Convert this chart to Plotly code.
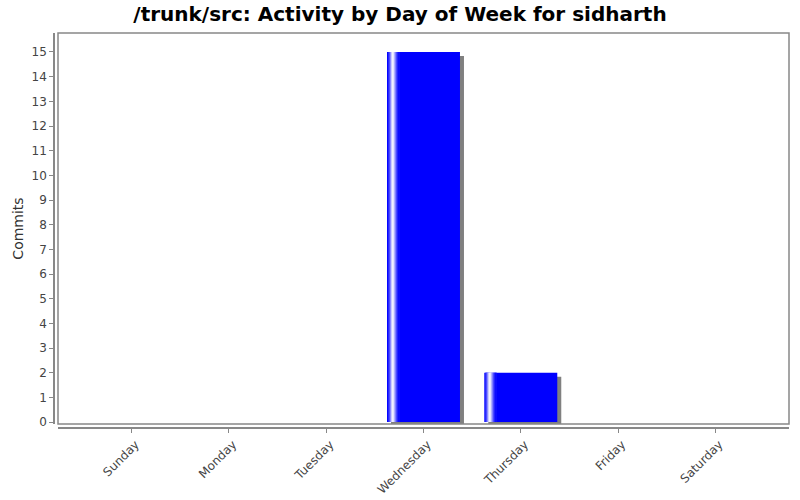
import plotly.graph_objects as go

# Datos: commits por día de la semana.
DAYS = ["Sunday", "Monday", "Tuesday", "Wednesday", "Thursday", "Friday", "Saturday"]
COMMITS = [0, 0, 0, 15, 2, 0, 0]
Y_TICKS = list(range(0, 16))

AXIS_COLOR = "#888888"
TEXT_COLOR = "#444444"
BAR_COLOR = "#0000FF"
SHADOW_COLOR = "#808080"

BAR_WIDTH = 0.75
PX_X = 1 / 97.3   # un pixel en unidades de categoría
PX_Y = 1 / 24.67  # un pixel en unidades del eje y

fig = go.Figure()

# Sombra gris desplazada 4px a la derecha y 4px hacia abajo.
fig.add_trace(
    go.Bar(
        x=DAYS,
        y=COMMITS,
        base=-4 * PX_Y,
        width=BAR_WIDTH,
        offset=-BAR_WIDTH / 2 + 4 * PX_X,
        marker_color=SHADOW_COLOR,
        marker_line_width=0,
        hoverinfo="skip",
    )
)

# Barra principal.
fig.add_trace(
    go.Bar(
        x=DAYS,
        y=COMMITS,
        width=BAR_WIDTH,
        offset=-BAR_WIDTH / 2,
        marker_color=BAR_COLOR,
        marker_line_width=0,
    )
)

# Brillo del lado izquierdo de la barra (franjas de 1px).
mezcla = [0.15, 0.3, 0.55, 0.8, 0.95, 0.9, 0.7, 0.5, 0.3, 0.15, 0.05]
for i, m in enumerate(mezcla):
    c = int(255 * m)
    fig.add_trace(
        go.Bar(
            x=DAYS,
            y=COMMITS,
            width=PX_X * 1.05,
            offset=-BAR_WIDTH / 2 + (i + 1) * PX_X,
            marker_color=f"rgb({c},{c},255)",
            marker_line_width=0,
            hoverinfo="skip",
        )
    )

fig.update_layout(
    width=800,
    height=500,
    barmode="overlay",
    showlegend=False,
    paper_bgcolor="#FFFFFF",
    plot_bgcolor="#FFFFFF",
    font_family="DejaVu Sans",
    font_color=TEXT_COLOR,
    margin=dict(l=54, r=11, t=33, b=72, autoexpand=False),
    title=dict(
        text="<b>/trunk/src: Activity by Day of Week for sidharth</b>",
        x=0.5,
        xanchor="center",
        y=1 - 14 / 500,
        yanchor="middle",
        font=dict(size=20, color="#000000", family="DejaVu Sans"),
    ),
    xaxis=dict(
        domain=[4 / 735, 1],
        range=[-0.757, 6.757],
        anchor="free",
        position=0,
        automargin=False,
        showline=True,
        linecolor=AXIS_COLOR,
        linewidth=1.5,
        ticks="outside",
        ticklen=4,
        tickcolor=AXIS_COLOR,
        tickangle=-45,
        ticklabelshift=4,
        tickfont=dict(size=12, color=TEXT_COLOR),
        showgrid=False,
        zeroline=False,
        fixedrange=True,
    ),
    yaxis=dict(
        domain=[4 / 395, 1],
        range=[-0.08, 15.77],
        anchor="free",
        position=0,
        automargin=False,
        tickvals=Y_TICKS,
        showline=True,
        linecolor=AXIS_COLOR,
        linewidth=1.5,
        ticks="outside",
        ticklen=4,
        tickcolor=AXIS_COLOR,
        tickfont=dict(size=12, color=TEXT_COLOR),
        showgrid=False,
        zeroline=False,
        fixedrange=True,
        title=dict(text="Commits", font=dict(size=14, color="#333333"), standoff=4),
    ),
    shapes=[
        dict(
            type="rect",
            xref="x domain",
            yref="y domain",
            x0=0,
            x1=1,
            y0=0,
            y1=1,
            line=dict(color=AXIS_COLOR, width=1.5),
        )
    ],
)

# Quitamos el margen por defecto del body para que la figura empiece en (0, 0).
fig.write_html(
    "out.html",
    config={"displayModeBar": False},
    post_script="document.body.style.margin = '0';",
)
